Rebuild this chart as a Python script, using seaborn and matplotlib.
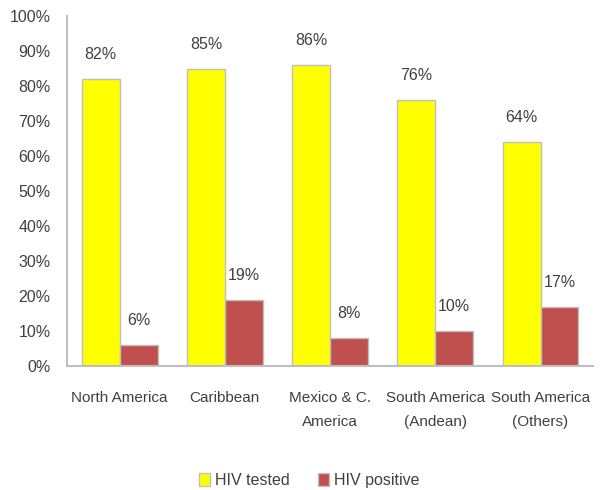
import matplotlib.pyplot as plt
import pandas as pd
import seaborn as sns

regions = ['North America', 'Caribbean', 'Mexico & C.\nAmerica',
           'South America\n(Andean)', 'South America\n(Others)']
hiv_tested = [82, 85, 86, 76, 64]
hiv_positive = [6, 19, 8, 10, 17]
series = ['HIV tested', 'HIV positive']
colors = ['#FFFF00', '#C0504D']

df = pd.DataFrame({
    'region': regions * 2,
    'series': [series[0]] * len(regions) + [series[1]] * len(regions),
    'value': hiv_tested + hiv_positive,
})

sns.set_style('white')
plt.rcParams['font.family'] = ['Liberation Sans Narrow', 'Liberation Sans', 'DejaVu Sans']
text_col = '#404040'
fs = 11

fig = plt.figure(figsize=(6.04, 4.9), dpi=100)
ax = fig.add_axes([0.111, 0.253, 0.871, 0.714])

sns.barplot(data=df, x='region', y='value', hue='series', order=regions,
            hue_order=series, palette=colors, width=0.72, saturation=1,
            edgecolor='#BFBFBF', linewidth=1, ax=ax)

for cont in ax.containers:
    ax.bar_label(cont, labels=[f'{v:.0f}%' for v in cont.datavalues],
                 padding=12, fontsize=fs + 0.5, color=text_col)

ax.set_ylim(0, 100)
ax.set_xlim(-0.5, len(regions) - 0.5)
ax.set_yticks(range(0, 101, 10))
ax.set_yticklabels([f'{t}%' for t in range(0, 101, 10)])
ax.set_xlabel('')
ax.set_ylabel('')
ax.tick_params(axis='both', length=0, labelsize=fs, labelcolor=text_col)
ax.tick_params(axis='x', pad=18)
ax.tick_params(axis='y', pad=12, labelsize=fs + 0.5)
for lbl in ax.get_xticklabels():
    lbl.set_linespacing(1.9)

for s in ['top', 'right']:
    ax.spines[s].set_visible(False)
for s in ['left', 'bottom']:
    ax.spines[s].set_color('#BFBFBF')
    ax.spines[s].set_linewidth(1.5)

ax.legend(loc='upper center', bbox_to_anchor=(0.46, -0.265), ncol=2,
          frameon=False, fontsize=fs + 0.5, handlelength=0.7, handleheight=0.9,
          handletextpad=0.3, columnspacing=1.8, labelcolor=text_col)

fig.savefig('out.png', dpi=100)
